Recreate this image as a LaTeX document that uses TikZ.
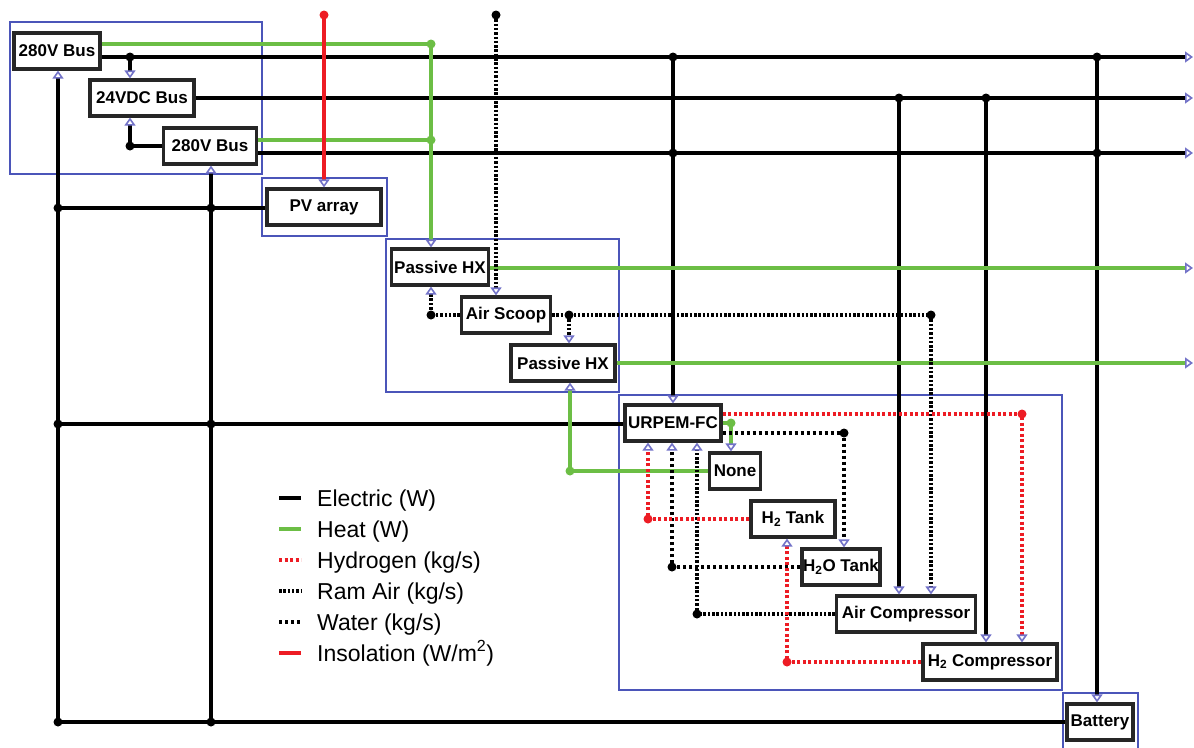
\documentclass[tikz,border=0pt]{standalone}
\usepackage{fontspec}
\setmainfont{Liberation Sans}
\usetikzlibrary{arrows.meta}
\definecolor{grpblue}{RGB}{75,85,185}
\definecolor{tipblue}{RGB}{115,115,200}
\definecolor{heatgreen}{RGB}{108,190,69}
\definecolor{insred}{RGB}{237,28,36}
\tikzset{
  unit/.style={draw=black!85, line width=3.2pt, fill=white, inner sep=0pt,
    minimum height=36pt, font=\bfseries\fontsize{17}{20}\selectfont},
  group/.style={draw=grpblue, line width=2.6pt},
  elec/.style={line width=3.4pt, black},
  heat/.style={line width=3.4pt, heatgreen},
  hydro/.style={line width=3.4pt, insred, dash pattern=on 3pt off 2.5pt},
  ramair/.style={line width=3.4pt, black, dash pattern=on 2.5pt off 1.8pt},
  water/.style={line width=3.4pt, black, dash pattern=on 3pt off 3pt},
  insol/.style={line width=3.4pt, insred},
  tip/.style={-{Triangle[open, length=8pt, width=11pt, line width=1.6pt, color=tipblue]}},
  legend/.style={anchor=base west, inner sep=0pt, font=\fontsize{23}{26}\selectfont},
}
\begin{document}
\begin{tikzpicture}[x=1pt,y=-1pt]
\path[fill=white, use as bounding box] (0,0) rectangle (1194,747);

% subsystem groups
\draw[group] (10,22) rectangle (262,174);
\draw[group] (262,178) rectangle (387,236);
\draw[group] (386,239) rectangle (619,392);
\draw[group] (619,395) rectangle (1062,690);
\draw[group] (1063,693) rectangle (1138,760);

% units
\node[unit, minimum width=86pt] (busA) at (57,51) {280V Bus};
\node[unit, minimum width=104pt] (dcbus) at (142,98) {24VDC Bus};
\node[unit, minimum width=93pt] (busB) at (210,146) {280V Bus};
\node[unit, minimum width=114pt] (pv) at (324,207) {PV array};
\node[unit, minimum width=97pt] (hxA) at (440,267) {Passive HX};
\node[unit, minimum width=89pt] (scoop) at (506,315) {Air Scoop};
\node[unit, minimum width=104pt] (hxB) at (563,363) {Passive HX};
\node[unit, minimum width=96pt] (fc) at (673,423) {URPEM-FC};
\node[unit, minimum width=51pt] (none) at (735,471) {None};
\node[unit, minimum width=84pt] (htank) at (793,519) {H\textsubscript{2} Tank};
\node[unit, minimum width=78pt] (wtank) at (841,567) {H\textsubscript{2}O Tank};
\node[unit, minimum width=139pt] (aircomp) at (906,614) {Air Compressor};
\node[unit, minimum width=134pt] (hcomp) at (990,662) {H\textsubscript{2} Compressor};
\node[unit, minimum width=66pt] (batt) at (1100,722) {Battery};

% junctions
\coordinate (outA) at (1193,57);
\coordinate (outB) at (1193,98);
\coordinate (outC) at (1193,153);
\coordinate (outD) at (1193,268);
\coordinate (outE) at (1193,363);
\coordinate (e1) at (130,57);
\coordinate (e2) at (130,146);
\coordinate (l1) at (58,208);
\coordinate (l2) at (58,424);
\coordinate (l3) at (58,722);
\coordinate (r1) at (211,208);
\coordinate (r2) at (211,424);
\coordinate (r3) at (211,722);
\coordinate (d1) at (673,57);
\coordinate (d1b) at (673,153);
\coordinate (d2) at (1097,57);
\coordinate (d2b) at (1097,153);
\coordinate (d3) at (899,98);
\coordinate (d4) at (986,98);
\coordinate (sun) at (324,15);
\coordinate (ram) at (496,15);
\coordinate (a1) at (431,315);
\coordinate (a2) at (569,315);
\coordinate (a3) at (931,315);
\coordinate (a4) at (697,614);
\coordinate (w1) at (844,433);
\coordinate (w2) at (672,567);
\coordinate (h1) at (1022,414);
\coordinate (h2) at (648,519);
\coordinate (h3) at (787,662);
\coordinate (g0) at (431,44);
\coordinate (g0b) at (431,140);
\coordinate (g1) at (570,471);
\coordinate (g2) at (731,423);

% electric
\draw[elec,tip] (busA.east |- outA) -- (outA);
\draw[elec,tip] (dcbus.east |- outB) -- (outB);
\draw[elec,tip] (busB.east |- outC) -- (outC);
\draw[elec,tip] (e1) -- (dcbus.north -| e1);
\draw[elec,tip] (busB.west |- e2) -- (e2) -- (dcbus.south -| e2);
\draw[elec,tip] (l3) -- (busA.south -| l3);
\draw[elec,tip] (r3) -- (busB.south -| r3);
\draw[elec] (l1) -- (pv.west |- l1);
\draw[elec] (l2) -- (fc.west |- l2);
\draw[elec] (l3) -- (batt.west |- l3);
\draw[elec,tip] (d1) -- (fc.north -| d1);
\draw[elec,tip] (d2) -- (batt.north -| d2);
\draw[elec,tip] (d3) -- (aircomp.north -| d3);
\draw[elec,tip] (d4) -- (hcomp.north -| d4);

% heat
\draw[heat] (busA.east |- g0) -- (g0);
\draw[heat] (busB.east |- g0b) -- (g0b);
\draw[heat,tip] (g0) -- (hxA.north -| g0);
\draw[heat,tip] (hxA.east |- outD) -- (outD);
\draw[heat,tip] (hxB.east |- outE) -- (outE);
\draw[heat,tip] (none.west |- g1) -- (g1) -- (hxB.south -| g1);
\draw[heat,tip] (fc.east |- g2) -- (g2) -- (none.north -| g2);

% insolation, ram air, water, hydrogen
\draw[insol,tip] (sun) -- (pv.north -| sun);
\draw[ramair,tip] (ram) -- (scoop.north -| ram);
\draw[ramair,tip] (scoop.west |- a1) -- (a1) -- (hxA.south -| a1);
\draw[ramair] (scoop.east |- a3) -- (a3);
\draw[ramair,tip] (a2) -- (hxB.north -| a2);
\draw[ramair,tip] (a3) -- (aircomp.north -| a3);
\draw[ramair,tip] (aircomp.west |- a4) -- (a4) -- (fc.south -| a4);
\draw[water,tip] (fc.east |- w1) -- (w1) -- (wtank.north -| w1);
\draw[water,tip] (wtank.west |- w2) -- (w2) -- (fc.south -| w2);
\draw[hydro,tip] (fc.east |- h1) -- (h1) -- (hcomp.north -| h1);
\draw[hydro,tip] (htank.west |- h2) -- (h2) -- (fc.south -| h2);
\draw[hydro,tip] (hcomp.west |- h3) -- (h3) -- (htank.south -| h3);

% junction dots
\foreach \p in {e1,e2,l1,l2,l3,r1,r2,r3,d1,d1b,d2,d2b,d3,d4,ram,a1,a2,a3,a4,w1,w2}
  \fill (\p) circle (4.5);
\foreach \p in {sun,h1,h2,h3}
  \fill[insred] (\p) circle (4.5);
\foreach \p in {g0,g0b,g1,g2}
  \fill[heatgreen] (\p) circle (4.5);

% legend
\foreach \sty/\txt [count=\i] in {elec/{Electric (W)}, heat/{Heat (W)},
    hydro/{Hydrogen (kg/s)}, ramair/{Ram Air (kg/s)}, water/{Water (kg/s)},
    insol/{Insolation (W/m\textsuperscript{2})}}
{
  \draw[\sty] (279,467+31*\i) -- (301,467+31*\i);
  \node[legend] (leg\i) at (317,475+31*\i) {\txt};
}
\end{tikzpicture}
\end{document}
